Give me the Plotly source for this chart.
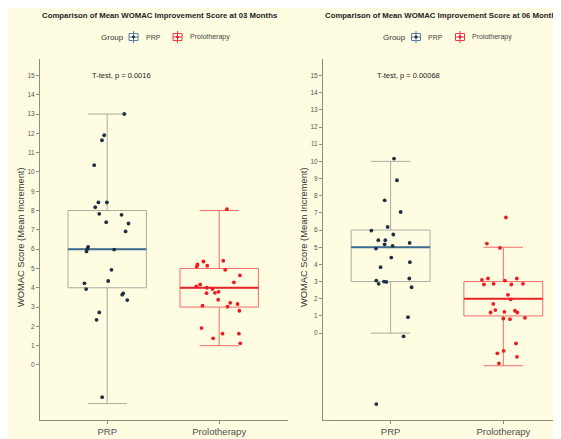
import plotly.graph_objects as go

groups = ["PRP", "Prolotherapy"]
titles = ["Comparison of Mean WOMAC Improvement Score at 03 Months",
          "Comparison of Mean WOMAC Improvement Score at 06 Months"]
pvals = ["T-test, p = 0.0016", "T-test, p = 0.00068"]
yticks = list(range(0, 16))

# Box statistics per panel: [PRP, Prolotherapy]
q1 = [[4, 3], [3, 1]]
med = [[6, 4], [5, 2]]
q3 = [[8, 5], [6, 3]]
lo = [[-2, 1], [0, -1.9]]
hi = [[13, 8], [10, 5]]

# Jittered points (values and horizontal jitter offsets)
m03_prp = [13.0, 11.9, 11.64, 10.35, 8.42, 8.42, 8.17, 7.83, 7.78, 7.33, 7.40, 6.92, 6.12,
           6.02, 5.88, 5.98, 4.93, 4.35, 4.23, 3.93, 3.71, 3.64, 3.36, 2.72, 2.34, -1.67]
m03_prp_jit = [0.152, -0.027, -0.047, -0.116, -0.078, -0.003, -0.107, -0.071, 0.128, 0.19,
               -0.009, 0.164, -0.17, -0.176, -0.185, 0.062, 0.038, 0.009, -0.203, -0.188,
               0.143, 0.134, 0.179, -0.071, -0.095, -0.045]
m03_pro = [8.07, 5.36, 5.40, 5.21, 5.1, 5.14, 4.93, 4.64, 4.28, 4.17, 4.07, 4.0, 3.93, 3.79,
           3.74, 3.72, 3.38, 3.22, 3.16, 3.02, 3.07, 2.81, 1.91, 1.62, 1.62, 1.38, 1.12]
m03_pro_jit = [0.069, -0.14, 0.036, -0.194, -0.2, -0.107, 0.054, 0.185, 0.131, -0.17, -0.205,
               -0.11, -0.06, -0.006, -0.038, -0.113, -0.009, 0.098, 0.164, 0.074, -0.149, 0.18,
               -0.158, 0.03, 0.176, -0.054, 0.188]
m06_prp = [10.16, 8.9, 7.73, 7.05, 6.18, 5.97, 5.74, 5.41, 5.41, 5.25, 5.17, 5.08, 4.92, 4.4,
           4.13, 3.84, 3.06, 2.87, 3.0, 2.98, 3.18, 2.67, 0.93, -0.19, -4.13]
m06_prp_jit = [0.03, 0.056, -0.053, 0.089, -0.027, -0.171, 0.024, -0.109, -0.047, 0.169, -0.053,
               0.018, -0.13, 0.006, 0.171, -0.089, -0.127, -0.106, -0.059, -0.038, 0.166, 0.186,
               0.154, 0.115, -0.127]
m06_pro = [6.73, 5.21, 4.96, 3.1, 3.18, 3.06, 3.18, 2.83, 2.87, 2.83, 2.87, 2.23, 1.96, 1.7,
           1.34, 1.2, 1.24, 1.3, 1.2, 0.85, 0.81, 0.89, -0.6, -1.03, -1.18, -1.38, -1.76]
m06_pro_jit = [0.023, -0.146, -0.03, -0.19, -0.136, 0.014, 0.12, -0.172, -0.086, 0.071, 0.174,
               0.041, 0.065, -0.089, -0.071, -0.113, 0.009, 0.103, 0.124, 0, 0.059, 0.192,
               0.112, 0.003, -0.053, 0.121, -0.039]

points = [[(m03_prp, m03_prp_jit), (m03_pro, m03_pro_jit)],
          [(m06_prp, m06_prp_jit), (m06_pro, m06_pro_jit)]]

box_line = ["#A9ABA2", "#F46A6A"]
med_col = ["#3D6C90", "#E8262A"]
pt_col = ["#1E3046", "#EE1C22"]
leg_col = ["#5A7FA0", "#EE3A3A"]
bg = "#FFFDE1"
axcol = "#8E8E80"
BW = 0.7
FONT = "Liberation Sans, Arial"

# page offset (browser body margin) compensation
OFF = 8
W, H = 561 - OFF, 439 - OFF

def px(x):
    return (x - OFF) / W

def py(y):
    return 1 - (y - OFF) / H

L0, R0 = 40, 288
L1, R1, RFULL1 = 323, 561, 570
TOP, BOT = 59, 420
pxu0 = 112.0
pxu1 = 112.7

fig = go.Figure()
for p in range(2):
    xa = "x" if p == 0 else "x2"
    ya = "y" if p == 0 else "y2"
    for g in range(2):
        pos = g + 1
        fig.add_trace(go.Box(
            x=[pos], q1=[q1[p][g]], median=[med[p][g]], q3=[q3[p][g]],
            lowerfence=[lo[p][g]], upperfence=[hi[p][g]],
            width=BW, fillcolor="rgba(0,0,0,0)", line=dict(color=box_line[g], width=1),
            boxpoints=False, showlegend=False, xaxis=xa, yaxis=ya, hoverinfo="skip"))
        fig.add_trace(go.Scatter(
            x=[pos - BW / 2, pos + BW / 2], y=[med[p][g], med[p][g]], mode="lines",
            line=dict(color=med_col[g], width=2), showlegend=False,
            xaxis=xa, yaxis=ya, hoverinfo="skip"))
        vals, jit = points[p][g]
        fig.add_trace(go.Scatter(
            x=[pos + j for j in jit], y=vals, mode="markers",
            marker=dict(color=pt_col[g], size=3.8), showlegend=False,
            xaxis=xa, yaxis=ya))

tickfont = dict(family=FONT, size=6.5, color="#555555")
xtickfont = dict(family=FONT, size=9.5, color="#4D4D4D")

def xaxis_cfg(L, R, pxu):
    return dict(domain=[px(L), min(1.0, px(R))], range=[0.4, 0.4 + (R - L) / pxu],
                tickvals=[1, 2], ticktext=groups, showgrid=False, zeroline=False,
                showline=True, linecolor=axcol, linewidth=1.1, ticks="outside",
                ticklen=3, tickcolor=axcol, tickfont=xtickfont, automargin=False,
                fixedrange=True)

def yaxis_cfg(rng, anchor):
    return dict(domain=[py(BOT), py(TOP)], range=rng, tickvals=yticks,
                showgrid=False, zeroline=False, showline=True, linecolor=axcol,
                linewidth=1.1, ticks="outside", ticklen=3, tickcolor=axcol,
                tickfont=tickfont, automargin=False, anchor=anchor)

fig.update_layout(
    width=W, height=H, margin=dict(l=0, r=0, t=0, b=0),
    paper_bgcolor=bg, plot_bgcolor=bg, showlegend=False,
    xaxis=xaxis_cfg(L0, R0, pxu0),
    yaxis=yaxis_cfg([-2.85, 15.85], "x"),
    xaxis2=dict(xaxis_cfg(L1, R1, pxu1), anchor="y2"),
    yaxis2=yaxis_cfg([-5.06, 15.96], "x2"),
)

ann = []
shapes = []
LEG_Y = 37
for p, (L, Rf) in enumerate([(L0, R0), (L1, RFULL1)]):
    ann.append(dict(text="<b>" + titles[p] + "</b>", x=px(L), y=py(15), xref="paper",
                    yref="paper", xanchor="left", yanchor="middle", showarrow=False,
                    font=dict(family=FONT, size=7.8, color="#222222")))
    ann.append(dict(text=pvals[p], x=0.85 if p == 0 else 0.86, y=15,
                    xref="x" if p == 0 else "x2", yref="y" if p == 0 else "y2",
                    xanchor="left", yanchor="middle", showarrow=False,
                    font=dict(family=FONT, size=7.5, color="#222222")))
    ann.append(dict(text="WOMAC Score (Mean Increment)", textangle=-90,
                    x=px(L - 19), y=py(237), xref="paper", yref="paper",
                    xanchor="center", yanchor="middle", showarrow=False,
                    font=dict(family=FONT, size=9.3, color="#333333")))
    ann.append(dict(text="Group", x=px((L + Rf) / 2), y=py(443), xref="paper",
                    yref="paper", xanchor="center", yanchor="middle", showarrow=False,
                    font=dict(family=FONT, size=9.5, color="#333333")))
    # legend (ggplot style, centred above the panel)
    s = (L + Rf) / 2 - 64.5
    ann.append(dict(text="Group", x=px(s - 1), y=py(LEG_Y), xref="paper", yref="paper",
                    xanchor="left", yanchor="middle", showarrow=False,
                    font=dict(family=FONT, size=8, color="#333333")))
    for g, (ic, tx) in enumerate([(34, 44), (78, 88)]):
        cx = s + ic
        c = leg_col[g]
        shapes.append(dict(type="rect", xref="paper", yref="paper",
                           x0=px(cx - 4.5), x1=px(cx + 4.5), y0=py(LEG_Y + 3.5),
                           y1=py(LEG_Y - 3.5), line=dict(color=c, width=1),
                           fillcolor="rgba(255,255,255,0.6)"))
        shapes.append(dict(type="line", xref="paper", yref="paper",
                           x0=px(cx - 4.5), x1=px(cx + 4.5), y0=py(LEG_Y), y1=py(LEG_Y),
                           line=dict(color=c, width=1)))
        shapes.append(dict(type="line", xref="paper", yref="paper",
                           x0=px(cx), x1=px(cx), y0=py(LEG_Y + 6), y1=py(LEG_Y - 6),
                           line=dict(color=c, width=1)))
        shapes.append(dict(type="circle", xref="paper", yref="paper",
                           x0=px(cx - 1.3), x1=px(cx + 1.3), y0=py(LEG_Y + 1.3),
                           y1=py(LEG_Y - 1.3), line=dict(color=pt_col[g], width=0.5),
                           fillcolor=pt_col[g]))
        ann.append(dict(text=groups[g], x=px(s + tx), y=py(LEG_Y), xref="paper",
                        yref="paper", xanchor="left", yanchor="middle", showarrow=False,
                        font=dict(family=FONT, size=7, color="#444444")))
fig.update_layout(annotations=ann, shapes=shapes)

fig.write_html("out.html")
